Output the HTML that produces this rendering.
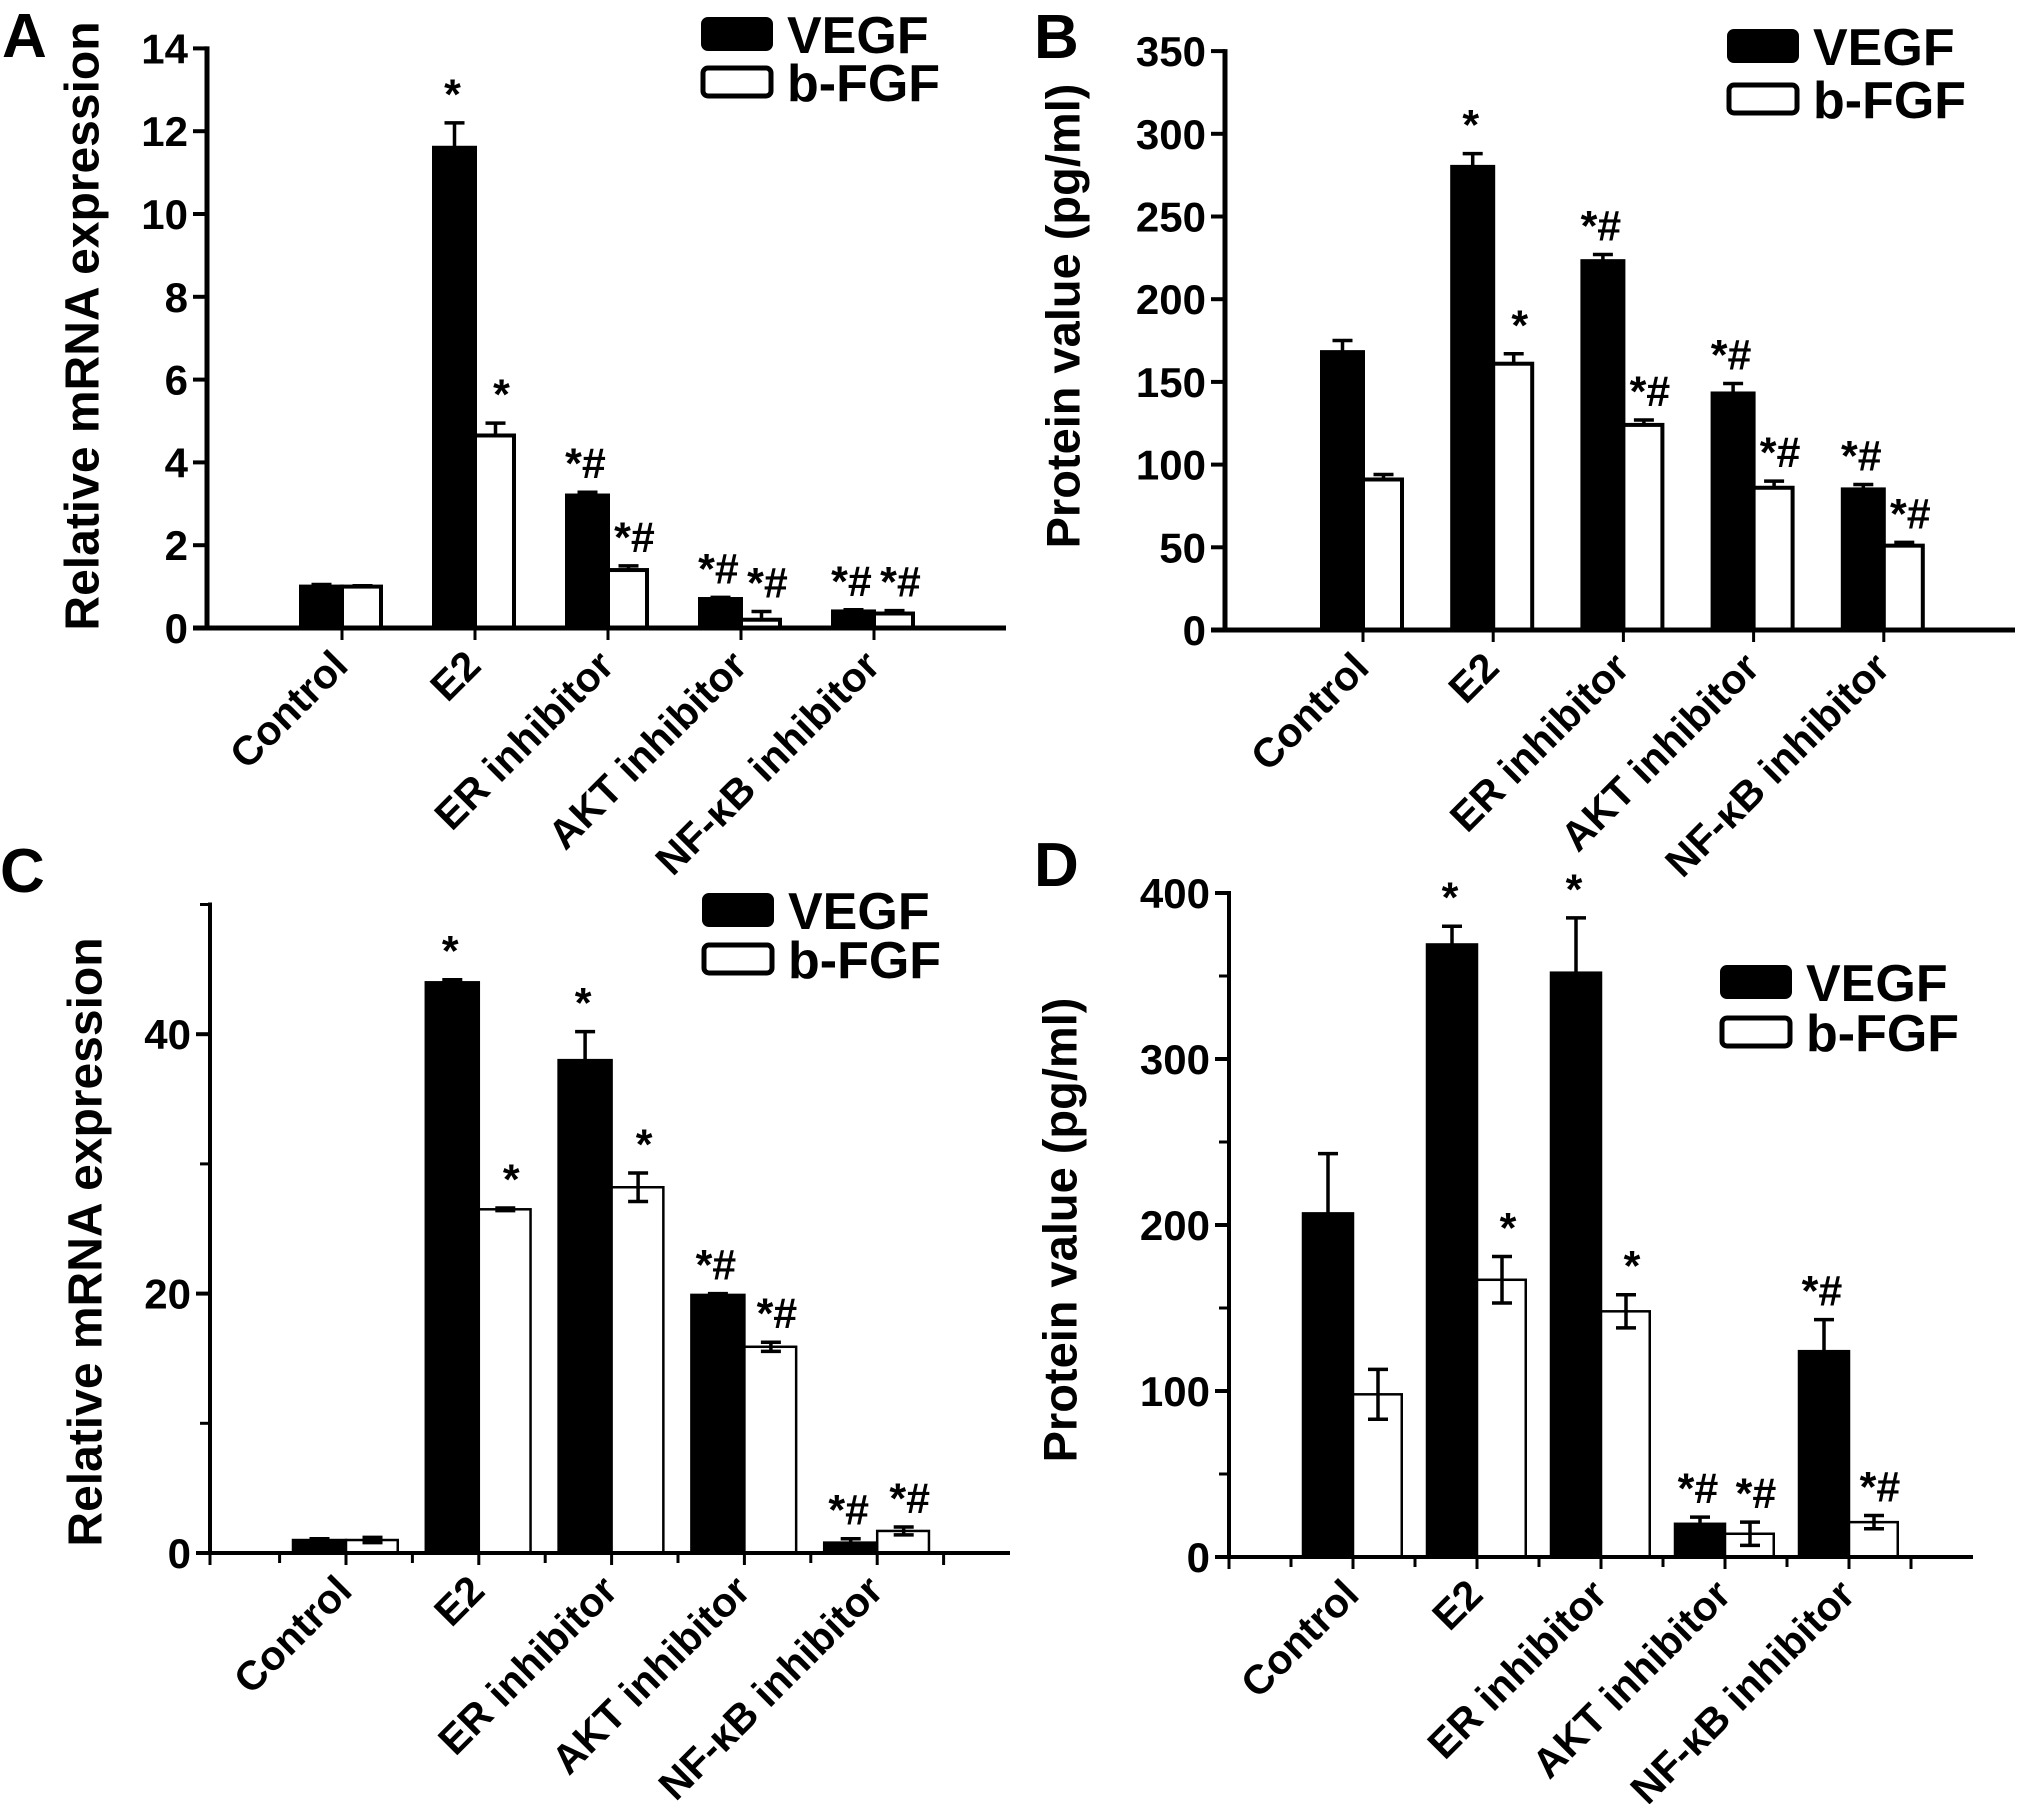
<!DOCTYPE html>
<html><head><meta charset="utf-8"><style>
html,body{margin:0;padding:0;background:#fff;}
svg{display:block;font-family:"Liberation Sans",Arial,sans-serif;font-weight:bold;}
</style></head><body>
<svg id="fig" width="2031" height="1804" viewBox="0 0 2031 1804" xmlns="http://www.w3.org/2000/svg"></svg>
<script>
const categories = ["Control","E2","ER inhibitor","AKT inhibitor","NF-\u03baB inhibitor"];
// Panel A: relative mRNA
const aVegf = [1.0, 11.6, 3.2, 0.7, 0.4];
const aVegfErr = [0.05, 0.6, 0.08, 0.04, 0.04];
const aFgf = [1.0, 4.65, 1.4, 0.2, 0.35];
const aFgfErr = [0.02, 0.3, 0.1, 0.2, 0.07];
const aVegfMark = ["", "*", "*#", "*#", "*#"];
const aFgfMark = ["", "*", "*#", "*#", "*#"];
const aTicks = [0,2,4,6,8,10,12,14];
// Panel B: protein
const bVegf = [168, 280, 223, 143, 85];
const bVegfErr = [7, 8, 4, 6, 3];
const bFgf = [91, 161, 124, 86, 51];
const bFgfErr = [3, 6, 3, 4, 2];
const bVegfMark = ["", "*", "*#", "*#", "*#"];
const bFgfMark = ["", "*", "*#", "*#", "*#"];
const bTicks = [0,50,100,150,200,250,300,350];
// Panel C: relative mRNA
const cVegf = [1.0, 44.0, 38.0, 19.9, 0.8];
const cVegfErr = [0.1, 0.2, 2.2, 0.1, 0.3];
const cFgf = [1.0, 26.5, 28.2, 15.9, 1.7];
const cFgfErr = [0.2, 0.1, 1.1, 0.35, 0.3];
const cVegfMark = ["", "*", "*", "*#", "*#"];
const cFgfMark = ["", "*", "*", "*#", "*#"];
const cTicks = [0,20,40];
const cMinor = [10,30,50];
// Panel D: protein
const dVegf = [207, 369, 352, 20, 124];
const dVegfErr = [36, 11, 33, 4, 19];
const dFgf = [98, 167, 148, 14, 21];
const dFgfErr = [15, 14, 10, 7, 4];
const dVegfMark = ["", "*", "*", "*#", "*#"];
const dFgfMark = ["", "*", "*", "*#", "*#"];
const dTicks = [0,100,200,300,400];
const dMinor = [50,150,250,350];

const NS = "http://www.w3.org/2000/svg";
const svg = document.getElementById("fig");
function mk(tag, attrs, parent) {
  const e = document.createElementNS(NS, tag);
  for (const k in attrs) e.setAttribute(k, attrs[k]);
  (parent || svg).appendChild(e);
  return e;
}

function panel(cfg) {
  const g = mk("g", {});
  
  
  const y = v => cfg.y0 - (v - 0) * cfg.ppu;
  const cx = i => cfg.c0 + i * cfg.step;
  const L = mk("text", {x: cfg.letter[0], y: cfg.letter[1], "font-size": 62}, g);
  L.textContent = cfg.letterText;
  
  
  const T = mk("text", {x: 0, y: 0, "font-size": cfg.titleSize, "text-anchor": "middle", "dominant-baseline": "central",
    transform: `translate(${cfg.title[0]},${cfg.title[1]}) rotate(-90)`}, g);
  T.textContent = cfg.titleText;
  
  
  for (let i = 0; i < categories.length; i++) {
    const c = cx(i);
    const vTop = y(cfg.vegf[i]);
    const r1 = mk("rect", {x: c - cfg.bw, y: vTop, width: cfg.bw, height: cfg.y0 - vTop, fill: "#000", stroke: "#000", "stroke-width": cfg.sw}, g);
    
    
    const fTop = y(cfg.fgf[i]);
    const r2 = mk("rect", {x: c, y: fTop, width: cfg.bw - cfg.sw/2, height: cfg.y0 - fTop, fill: "#fff", stroke: "#000", "stroke-width": cfg.sw}, g);
    
    
    const ev = c - cfg.bw / 2, ef = c + cfg.bw / 2;
    const eh = y(cfg.vegf[i] + cfg.vegfErr[i]);
    const e1 = mk("path", {d: `M${ev},${vTop} V${eh} M${ev-10},${eh} H${ev+10}`, stroke: "#000", "stroke-width": 3.5, fill: "none"}, g);
    
    
    const fh = y(cfg.fgf[i] + cfg.fgfErr[i]);
    const fl = cfg.twoSided ? y(cfg.fgf[i] - cfg.fgfErr[i]) : fTop;
    let d = `M${ef},${fl} V${fh} M${ef-10},${fh} H${ef+10}`;
    if (cfg.twoSided) d += ` M${ef-10},${fl} H${ef+10}`;
    const e2 = mk("path", {d: d, stroke: "#000", "stroke-width": 3.5, fill: "none"}, g);
    
    
    if (cfg.vMark[i]) {
      const m = mk("text", {x: ev - 2, y: eh - 14, "font-size": 43, "text-anchor": "middle"}, g);
      m.textContent = cfg.vMark[i];
      
      
    }
    if (cfg.fMark[i]) {
      const m = mk("text", {x: ef + 6, y: fh - 14, "font-size": 43, "text-anchor": "middle"}, g);
      m.textContent = cfg.fMark[i];
      
      
    }
    const lx = c + 8, ly = cfg.y0 + 40;
    const t = mk("text", {x: 0, y: 0, "font-size": cfg.catSize, "text-anchor": "end",
      transform: `translate(${lx},${ly}) rotate(-45)`}, g);
    t.textContent = categories[i];
    
    
    const xt = mk("line", {x1: c, x2: c, y1: cfg.y0, y2: cfg.y0 + 12, stroke: "#000", "stroke-width": 3}, g);
    
    
    if (cfg.xMinor) {
      const mx = c - cfg.step / 2;
      const xm = mk("line", {x1: mx, x2: mx, y1: cfg.y0, y2: cfg.y0 + 10, stroke: "#000", "stroke-width": 3}, g);
      
      
    }
  }
  if (cfg.xMinor) {
    [cfg.ax, cx(categories.length - 1) + cfg.step / 2].forEach(mx => {
      const xm = mk("line", {x1: mx, x2: mx, y1: cfg.y0, y2: cfg.y0 + 12, stroke: "#000", "stroke-width": 3}, g);
      
      
    });
  }
  const ya = mk("line", {x1: cfg.ax, x2: cfg.ax, y1: y(cfg.yMax) - 2, y2: cfg.y0 + 2, stroke: "#000", "stroke-width": cfg.axw}, g);
  
  
  const xa = mk("line", {x1: cfg.ax - 14, x2: cfg.xEnd, y1: cfg.y0, y2: cfg.y0, stroke: "#000", "stroke-width": cfg.axw}, g);
  
  
  cfg.ticks.forEach(v => {
    const tk = mk("line", {x1: cfg.ax - 14, x2: cfg.ax, y1: y(v), y2: y(v), stroke: "#000", "stroke-width": 4}, g);
    
    
    const tl = mk("text", {x: cfg.ax - 19, y: y(v) + 15, "font-size": 42, "text-anchor": "end"}, g);
    tl.textContent = v;
    
    
  });
  (cfg.minor || []).forEach(v => {
    const tk = mk("line", {x1: cfg.ax - 10, x2: cfg.ax, y1: y(v), y2: y(v), stroke: "#000", "stroke-width": 3}, g);
    
    
  });
  const [lx, ly1, ly2] = cfg.legend;
  const lg = mk("g", {}, g);
  
  
  const k1 = mk("rect", {x: lx, y: ly1, width: 68, height: 30, rx: 5, fill: "#000", stroke: "#000", "stroke-width": 4}, lg);
  
  
  const t1 = mk("text", {x: lx + 84, y: ly1 + 34, "font-size": 52}, lg);
  t1.textContent = "VEGF";
  
  
  const k2 = mk("rect", {x: lx, y: ly2, width: 68, height: 28, rx: 5, fill: "#fff", stroke: "#000", "stroke-width": 5}, lg);
  
  
  const t2 = mk("text", {x: lx + 84, y: ly2 + 33, "font-size": 52}, lg);
  t2.textContent = "b-FGF";
  
  
}

panel({id: "panel-a", letterText: "A", letter: [2, 57], titleText: "Relative mRNA expression", title: [83, 326], titleSize: 48,
  ax: 207, y0: 628, ppu: 41.4, yMax: 14, xEnd: 1006, c0: 342, step: 133, bw: 41, sw: 4, axw: 5,
  vegf: aVegf, vegfErr: aVegfErr, fgf: aFgf, fgfErr: aFgfErr, vMark: aVegfMark, fMark: aFgfMark,
  ticks: aTicks, catSize: 41, twoSided: false, legend: [703, 19, 68]});
panel({id: "panel-b", letterText: "B", letter: [1034, 58], titleText: "Protein value (pg/ml)", title: [1063, 316], titleSize: 47,
  ax: 1225, y0: 630, ppu: 1.654, yMax: 350, xEnd: 2015, c0: 1363, step: 130.2, bw: 41, sw: 4, axw: 5,
  vegf: bVegf, vegfErr: bVegfErr, fgf: bFgf, fgfErr: bFgfErr, vMark: bVegfMark, fMark: bFgfMark,
  ticks: bTicks, catSize: 41, twoSided: false, legend: [1729, 31, 85]});
panel({id: "panel-c", letterText: "C", letter: [0, 892], titleText: "Relative mRNA expression", title: [86, 1242], titleSize: 48,
  ax: 210, y0: 1553, ppu: 12.97, yMax: 50, xEnd: 1010, c0: 346, step: 132.8, bw: 53, sw: 2.5, axw: 4,
  vegf: cVegf, vegfErr: cVegfErr, fgf: cFgf, fgfErr: cFgfErr, vMark: cVegfMark, fMark: cFgfMark,
  ticks: cTicks, minor: cMinor, xMinor: true, catSize: 41, twoSided: true, legend: [704, 895, 945]});
panel({id: "panel-d", letterText: "D", letter: [1034, 886], titleText: "Protein value (pg/ml)", title: [1060, 1230], titleSize: 47,
  ax: 1229, y0: 1557, ppu: 1.66, yMax: 400, xEnd: 1973, c0: 1353, step: 124, bw: 50, sw: 2.5, axw: 4,
  vegf: dVegf, vegfErr: dVegfErr, fgf: dFgf, fgfErr: dFgfErr, vMark: dVegfMark, fMark: dFgfMark,
  ticks: dTicks, minor: dMinor, xMinor: true, catSize: 41, twoSided: true, legend: [1722, 967, 1018]});
</script>
</body></html>
